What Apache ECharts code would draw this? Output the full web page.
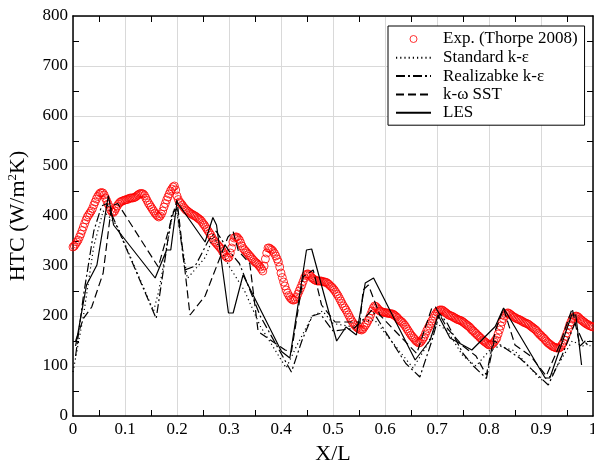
<!DOCTYPE html>
<html>
<head>
<meta charset="utf-8">
<script src="https://cdn.jsdelivr.net/npm/echarts@6/dist/echarts.min.js"></script>
<style>html,body{margin:0;padding:0;background:#fff;}#c{width:594px;height:462px;}</style>
</head>
<body>
<div id="c"></div>
<script>
const seriesNames = ['Exp. (Thorpe 2008)', 'Standard k-ε', 'Realizabke k-ε', 'k-ω SST', 'LES'];
const xName = 'X/L';
const yName = 'HTC (W/m{sup|2}K)';

const expData = [
[0.0000,338],[0.0025,340],[0.0050,344],[0.0075,348],[0.0100,352],[0.0125,358],[0.0150,364],[0.0175,371],[0.0200,378],[0.0225,385],
[0.0250,392],[0.0275,398],[0.0300,402],[0.0325,406],[0.0350,410],[0.0375,415],[0.0400,422],[0.0425,428],[0.0450,434],[0.0475,439],
[0.0500,443],[0.0525,446],[0.0550,447],[0.0575,446],[0.0600,442],[0.0625,436],[0.0650,430],[0.0675,424],[0.0700,418],[0.0725,412],
[0.0750,408],[0.0775,407],[0.0800,410],[0.0825,415],[0.0850,420],[0.0875,424],[0.0900,427],[0.0925,429],[0.0950,430],[0.0975,431],
[0.1000,432],[0.1025,433],[0.1050,433],[0.1075,435],[0.1100,436],[0.1125,436],[0.1150,436],[0.1175,437],[0.1200,438],[0.1225,440],
[0.1250,442],[0.1275,444],[0.1300,445],[0.1325,445],[0.1350,444],[0.1375,441],[0.1400,436],[0.1425,431],[0.1450,426],[0.1475,422],
[0.1500,418],[0.1525,414],[0.1550,410],[0.1575,406],[0.1600,403],[0.1625,400],[0.1650,398],[0.1675,400],[0.1700,404],[0.1725,410],
[0.1750,418],[0.1775,425],[0.1800,432],[0.1825,438],[0.1850,444],[0.1875,450],[0.1900,454],[0.1925,458],[0.1950,460],[0.1975,452],
[0.2000,440],[0.2025,433],[0.2050,428],[0.2075,425],[0.2100,422],[0.2125,418],[0.2150,415],[0.2175,412],[0.2200,410],[0.2225,408],
[0.2250,406],[0.2275,404],[0.2300,403],[0.2325,401],[0.2350,400],[0.2375,398],[0.2400,396],[0.2425,394],[0.2450,392],[0.2475,389],
[0.2500,385],[0.2525,382],[0.2550,378],[0.2575,374],[0.2600,370],[0.2625,366],[0.2650,362],[0.2675,357],[0.2700,352],[0.2725,349],
[0.2750,346],[0.2775,343],[0.2800,340],[0.2825,337],[0.2850,334],[0.2875,329],[0.2900,325],[0.2925,321],[0.2950,318],[0.2975,316],
[0.3000,318],[0.3025,326],[0.3050,336],[0.3075,348],[0.3100,356],[0.3125,358],[0.3150,358],[0.3175,355],[0.3200,352],[0.3225,346],
[0.3250,340],[0.3275,335],[0.3300,332],[0.3325,329],[0.3350,326],[0.3375,323],[0.3400,320],[0.3425,317],[0.3450,314],[0.3475,311],
[0.3500,308],[0.3525,306],[0.3550,304],[0.3575,301],[0.3600,298],[0.3625,294],[0.3650,290],[0.3675,300],[0.3700,314],[0.3725,326],
[0.3750,336],[0.3775,336],[0.3800,334],[0.3825,332],[0.3850,329],[0.3875,325],[0.3900,320],[0.3925,314],[0.3950,308],[0.3975,298],
[0.4000,286],[0.4025,277],[0.4050,268],[0.4075,260],[0.4100,252],[0.4125,246],[0.4150,241],[0.4175,237],[0.4200,234],[0.4225,232],
[0.4250,232],[0.4275,234],[0.4300,238],[0.4325,244],[0.4350,250],[0.4375,256],[0.4400,262],[0.4425,269],[0.4450,276],[0.4475,281],
[0.4500,284],[0.4525,284],[0.4550,282],[0.4575,279],[0.4600,276],[0.4625,274],[0.4650,272],[0.4675,271],[0.4700,270],[0.4725,270],
[0.4750,270],[0.4775,270],[0.4800,269],[0.4825,268],[0.4850,268],[0.4875,267],[0.4900,265],[0.4925,263],[0.4950,260],[0.4975,258],
[0.5000,255],[0.5025,252],[0.5050,248],[0.5075,244],[0.5100,240],[0.5125,235],[0.5150,230],[0.5175,225],[0.5200,220],[0.5225,216],
[0.5250,212],[0.5275,207],[0.5300,202],[0.5325,197],[0.5350,192],[0.5375,188],[0.5400,184],[0.5425,181],[0.5450,178],[0.5475,176],
[0.5500,174],[0.5525,173],[0.5550,172],[0.5575,174],[0.5600,178],[0.5625,182],[0.5650,186],[0.5675,191],[0.5700,196],[0.5725,203],
[0.5750,210],[0.5775,216],[0.5800,220],[0.5825,219],[0.5850,216],[0.5875,213],[0.5900,210],[0.5925,209],[0.5950,208],[0.5975,207],
[0.6000,207],[0.6025,206],[0.6050,206],[0.6075,205],[0.6100,205],[0.6125,204],[0.6150,204],[0.6175,202],[0.6200,200],[0.6225,198],
[0.6250,195],[0.6275,192],[0.6300,190],[0.6325,188],[0.6350,185],[0.6375,182],[0.6400,178],[0.6425,174],[0.6450,170],[0.6475,166],
[0.6500,162],[0.6525,159],[0.6550,156],[0.6575,153],[0.6600,150],[0.6625,148],[0.6650,146],[0.6675,147],[0.6700,150],[0.6725,154],
[0.6750,158],[0.6775,164],[0.6800,170],[0.6825,175],[0.6850,180],[0.6875,185],[0.6900,190],[0.6925,195],[0.6950,200],[0.6975,204],
[0.7000,208],[0.7025,210],[0.7050,212],[0.7075,212],[0.7100,212],[0.7125,210],[0.7150,208],[0.7175,206],[0.7200,204],[0.7225,202],
[0.7250,201],[0.7275,200],[0.7300,199],[0.7325,197],[0.7350,196],[0.7375,194],[0.7400,193],[0.7425,192],[0.7450,191],[0.7475,190],
[0.7500,188],[0.7525,186],[0.7550,184],[0.7575,182],[0.7600,180],[0.7625,178],[0.7650,175],[0.7675,172],[0.7700,170],[0.7725,167],
[0.7750,165],[0.7775,162],[0.7800,160],[0.7825,157],[0.7850,155],[0.7875,152],[0.7900,150],[0.7925,148],[0.7950,146],[0.7975,144],
[0.8000,142],[0.8025,142],[0.8050,143],[0.8075,145],[0.8100,148],[0.8125,152],[0.8150,156],[0.8175,164],[0.8200,172],[0.8225,180],
[0.8250,188],[0.8275,195],[0.8300,200],[0.8325,204],[0.8350,206],[0.8375,206],[0.8400,204],[0.8425,202],[0.8450,200],[0.8475,198],
[0.8500,197],[0.8525,195],[0.8550,194],[0.8575,193],[0.8600,192],[0.8625,190],[0.8650,189],[0.8675,187],[0.8700,186],[0.8725,185],
[0.8750,184],[0.8775,182],[0.8800,180],[0.8825,178],[0.8850,176],[0.8875,174],[0.8900,172],[0.8925,169],[0.8950,166],[0.8975,163],
[0.9000,161],[0.9025,158],[0.9050,156],[0.9075,153],[0.9100,150],[0.9125,147],[0.9150,145],[0.9175,143],[0.9200,141],[0.9225,139],
[0.9250,138],[0.9275,137],[0.9300,136],[0.9325,136],[0.9350,136],[0.9375,138],[0.9400,142],[0.9425,146],[0.9450,152],[0.9475,159],
[0.9500,166],[0.9525,174],[0.9550,182],[0.9575,188],[0.9600,194],[0.9625,197],[0.9650,199],[0.9675,200],[0.9700,199],[0.9725,197],
[0.9750,194],[0.9775,192],[0.9800,190],[0.9825,188],[0.9850,186],[0.9875,184],[0.9900,183],[0.9925,181],[0.9950,180],[0.9975,179],
[1.0000,178]
];

const stdKeData = [
[0,88],[0.02,200],[0.04,340],[0.058,410],[0.068,400],[0.085,380],[0.155,210],[0.165,250],[0.19,395],[0.2,405],
[0.22,275],[0.255,318],[0.27,360],[0.3,300],[0.33,250],[0.36,180],[0.41,96],[0.43,140],[0.46,200],[0.48,210],
[0.5,185],[0.54,178],[0.56,190],[0.58,192],[0.62,140],[0.654,96],[0.68,140],[0.7,185],[0.72,170],[0.75,120],
[0.775,100],[0.8,130],[0.82,140],[0.85,130],[0.9,72],[0.92,80],[0.96,150],[0.98,140],[0.995,145]
];

const realKeData = [
[0.005,120],[0.02,240],[0.04,370],[0.055,420],[0.065,425],[0.08,390],[0.16,195],[0.19,405],[0.2,415],[0.215,292],
[0.235,300],[0.26,350],[0.275,370],[0.3,330],[0.32,305],[0.36,200],[0.42,88],[0.44,150],[0.46,200],[0.475,205],
[0.5,170],[0.54,175],[0.56,195],[0.575,212],[0.6,170],[0.64,105],[0.667,78],[0.69,150],[0.705,205],[0.72,185],
[0.75,125],[0.77,100],[0.795,75],[0.81,150],[0.825,140],[0.86,115],[0.914,62],[0.94,120],[0.965,185],[0.98,150],[0.995,140]
];

const sstData = [
[0.005,150],[0.02,195],[0.036,218],[0.058,286],[0.074,420],[0.086,425],[0.164,298],[0.2,432],[0.225,202],[0.254,240],
[0.298,358],[0.308,369],[0.318,330],[0.34,305],[0.356,169],[0.408,132],[0.42,128],[0.443,279],[0.462,292],[0.478,222],
[0.504,188],[0.552,188],[0.558,252],[0.568,262],[0.59,202],[0.661,125],[0.69,216],[0.697,218],[0.72,175],[0.75,140],
[0.775,120],[0.795,82],[0.812,170],[0.828,215],[0.85,142],[0.88,120],[0.91,80],[0.935,140],[0.96,215],[0.975,140],
[0.985,150],[0.995,150]
];

const lesData = [
[0.005,140],[0.026,262],[0.046,302],[0.068,441],[0.078,382],[0.158,276],[0.18,332],[0.188,332],[0.2,428],[0.254,348],
[0.269,397],[0.276,382],[0.299,206],[0.308,206],[0.327,282],[0.401,129],[0.417,116],[0.449,332],[0.459,334],[0.507,150],
[0.525,178],[0.545,162],[0.562,266],[0.578,276],[0.658,112],[0.687,152],[0.702,202],[0.725,156],[0.767,132],[0.812,179],
[0.828,216],[0.908,76],[0.917,76],[0.959,202],[0.967,202],[0.978,102]
];

const FONT = '"Liberation Serif", "Times New Roman", serif';
const chart = echarts.init(document.getElementById('c'), null, {renderer: 'canvas'});

const circleIcon = 'path://M0,0 M35,17 M14,8.5 A3.5,3.5 0 1,0 21,8.5 A3.5,3.5 0 1,0 14,8.5 Z';
const lineCommon = {type: 'line', showSymbol: false, symbol: 'none', smooth: false, z: 3, animation: false};
const hiddenMark = {opacity: 0};

function boxAxis(isX, pos, main) {
  const a = {
    type: 'value', position: pos,
    axisLine: {show: true, onZero: false, lineStyle: {color: '#000', width: 1.5}},
    axisTick: {show: false, inside: true},
    minorTick: {show: true, splitNumber: 2, length: 6, lineStyle: {color: '#000', width: 1}},
    splitLine: {show: main, lineStyle: {color: '#d9d9d9', width: 1}},
    axisLabel: main ? {fontFamily: FONT, fontSize: 17, color: '#000', margin: 5, showMinLabel: true, showMaxLabel: true} : {show: false}
  };
  if (isX) { a.min = 0; a.max = 1; a.interval = 0.1; } else { a.min = 0; a.max = 800; a.interval = 100; }
  return a;
}

const xMain = boxAxis(true, 'bottom', true);
Object.assign(xMain, {name: xName, nameLocation: 'middle', nameGap: 22,
  nameTextStyle: {fontFamily: FONT, fontSize: 22, color: '#000'}});
const yMain = boxAxis(false, 'left', true);
Object.assign(yMain, {name: yName, nameLocation: 'middle', nameGap: 32,
  nameTextStyle: {fontFamily: FONT, fontSize: 22, color: '#000', lineHeight: 26,
    rich: {sup: {fontFamily: FONT, fontSize: 13, color: '#000', verticalAlign: 'top', lineHeight: 14}}}});

chart.setOption({
  animation: false,
  backgroundColor: '#fff',
  grid: {left: 73, right: 1, top: 16, bottom: 46, containLabel: false, outerBoundsMode: 'none'},
  legend: {
    orient: 'vertical', left: 388, top: 26,
    backgroundColor: '#fff', borderColor: '#000', borderWidth: 1,
    padding: [4, 7, 4, 7], itemWidth: 35, itemHeight: 17, itemGap: 1.3,
    textStyle: {fontFamily: FONT, fontSize: 17, color: '#000', padding: [0, 0, 0, 7]},
    data: [
      {name: seriesNames[0], icon: circleIcon, itemStyle: {color: '#fff', borderColor: '#ff0000', borderWidth: 1}},
      {name: seriesNames[1], itemStyle: hiddenMark},
      {name: seriesNames[2], itemStyle: hiddenMark},
      {name: seriesNames[3], itemStyle: hiddenMark},
      {name: seriesNames[4], itemStyle: hiddenMark}
    ]
  },
  xAxis: [xMain, boxAxis(true, 'top', false)],
  yAxis: [yMain, boxAxis(false, 'right', false)],
  series: [
    {name: seriesNames[0], type: 'scatter', data: expData, symbol: 'circle', symbolSize: 8, z: 2,
     itemStyle: {color: 'rgba(255,255,255,0)', borderColor: '#ff0000', borderWidth: 1}},
    Object.assign({}, lineCommon, {name: seriesNames[1], data: stdKeData, lineStyle: {color: '#000', width: 1.2, type: [1.2, 3]}, itemStyle: {color: '#000'}}),
    Object.assign({}, lineCommon, {name: seriesNames[2], data: realKeData, lineStyle: {color: '#000', width: 1.2, type: [9, 3, 2, 3]}, itemStyle: {color: '#000'}}),
    Object.assign({}, lineCommon, {name: seriesNames[3], data: sstData, lineStyle: {color: '#000', width: 1.2, type: [8, 4]}, itemStyle: {color: '#000'}}),
    Object.assign({}, lineCommon, {name: seriesNames[4], data: lesData, lineStyle: {color: '#000', width: 1.2, type: 'solid'}, itemStyle: {color: '#000'}})
  ]
});
</script>
</body>
</html>
